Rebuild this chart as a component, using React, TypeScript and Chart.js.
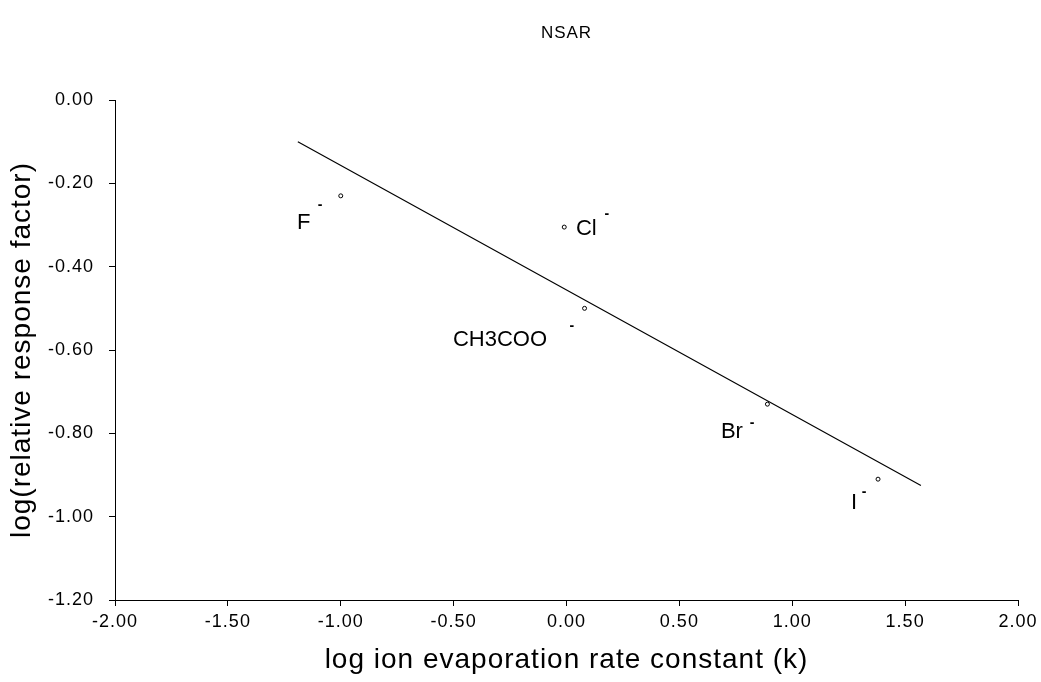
import React, { useEffect, useRef } from 'react';
import { Chart, registerables } from 'chart.js';

Chart.register(...registerables);

// Ion labels and measured values
const ions = ['F', 'Cl', 'CH3COO', 'Br', 'I'];
const logK = [-1.0, -0.01, 0.08, 0.89, 1.38];
const logRRF = [-0.23, -0.305, -0.5, -0.73, -0.91];

// Fitted line end points
const fitX = [-1.19, 1.57];
const fitY = [-0.1, -0.925];

// Label anchors in data units
const labelX = [-1.194, 0.042, -0.503, 0.684, 1.26];
const labelY = [-0.295, -0.31, -0.576, -0.797, -0.967];
const supX = [-1.092, 0.179, 0.024, 0.822, 1.318];
const supY = [-0.252, -0.274, -0.542, -0.775, -0.941];

const xTickMin = -2;
const xTickMax = 2;
const xStep = 0.5;
const yTickMin = -1.2;
const yTickMax = 0;
const yStep = 0.2;

const FONT = '"Liberation Sans", Arial, sans-serif';

export default function App() {
  const ref = useRef<HTMLCanvasElement>(null);

  useEffect(() => {
    if (!ref.current) return;

    const spacingPlugin = {
      id: 'scanSpacing',
      beforeDraw(chart: any) {
        (chart.ctx as any).letterSpacing = '1px';
      },
    };

    const labelPlugin = {
      id: 'ionLabels',
      afterDatasetsDraw(chart: any) {
        const { ctx, scales } = chart;
        const x = scales.x;
        const y = scales.y;
        ctx.save();
        (ctx as any).letterSpacing = '0px';
        ctx.fillStyle = '#000';
        ctx.font = `22px ${FONT}`;
        ctx.textAlign = 'left';
        ctx.textBaseline = 'middle';
        ions.forEach((t, i) => {
          ctx.fillText(t, x.getPixelForValue(labelX[i]), y.getPixelForValue(labelY[i]));
        });
        ctx.font = `bold 14px ${FONT}`;
        ctx.textAlign = 'center';
        ions.forEach((_, i) => {
          ctx.fillText('-', x.getPixelForValue(supX[i]), y.getPixelForValue(supY[i]));
        });
        ctx.restore();
      },
    };

    const chart = new Chart(ref.current, {
      type: 'scatter',
      data: {
        datasets: [
          {
            type: 'line',
            label: 'fit',
            data: fitX.map((v, i) => ({ x: v, y: fitY[i] })),
            borderColor: '#000',
            borderWidth: 1.2,
            pointRadius: 0,
            showLine: true,
            fill: false,
          } as any,
          {
            label: 'ions',
            data: logK.map((v, i) => ({ x: v, y: logRRF[i] })),
            borderColor: '#000',
            backgroundColor: '#fff',
            borderWidth: 1,
            pointRadius: 2,
            pointStyle: 'circle',
          },
        ],
      },
      options: {
        animation: false,
        responsive: false,
        layout: { padding: { left: 0, right: 23, top: 0, bottom: 0 } },
        plugins: {
          legend: { display: false },
          tooltip: { enabled: false },
          title: {
            display: true,
            fullSize: false,
            text: 'NSAR',
            color: '#000',
            font: { family: FONT, size: 17, weight: 'normal' },
            padding: { top: 22.8, bottom: 56.8 },
          },
        },
        scales: {
          x: {
            type: 'linear',
            min: xTickMin,
            max: xTickMax,
            afterFit: (s: any) => {
              s.height = 82;
            },
            ticks: {
              stepSize: xStep,
              color: '#000',
              padding: 5,
              font: { family: FONT, size: 18 },
              callback: (v: any) => (Math.abs(Number(v)) < 1e-9 ? 0 : Number(v)).toFixed(2),
            },
            grid: {
              display: true,
              drawOnChartArea: false,
              drawTicks: true,
              tickLength: 6,
              color: '#000',
            },
            border: { display: true, color: '#000', width: 1 },
            title: {
              display: true,
              text: 'log ion evaporation rate constant (k)',
              color: '#000',
              font: { family: FONT, size: 28 },
              padding: { top: 0, bottom: 5 },
            },
          },
          y: {
            type: 'linear',
            min: yTickMin,
            max: yTickMax,
            afterFit: (s: any) => {
              s.width = 115;
            },
            ticks: {
              stepSize: yStep,
              color: '#000',
              padding: 15,
              font: { family: FONT, size: 18 },
              callback: (v: any) => (Math.abs(Number(v)) < 1e-9 ? 0 : Number(v)).toFixed(2),
            },
            grid: {
              display: true,
              drawOnChartArea: false,
              drawTicks: true,
              tickLength: 6,
              color: '#000',
            },
            border: { display: true, color: '#000', width: 1 },
            title: {
              display: true,
              text: 'log(relative response factor)',
              color: '#000',
              font: { family: FONT, size: 28 },
              padding: { top: 5, bottom: 0 },
            },
          },
        },
      },
      plugins: [spacingPlugin, labelPlugin],
    });

    return () => chart.destroy();
  }, []);

  return (
    <div style={{ position: 'absolute', left: 0, top: 0, width: 1041, height: 682, background: '#fff' }}>
      <canvas ref={ref} width={1041} height={682} style={{ display: 'block' }} />
    </div>
  );
}
